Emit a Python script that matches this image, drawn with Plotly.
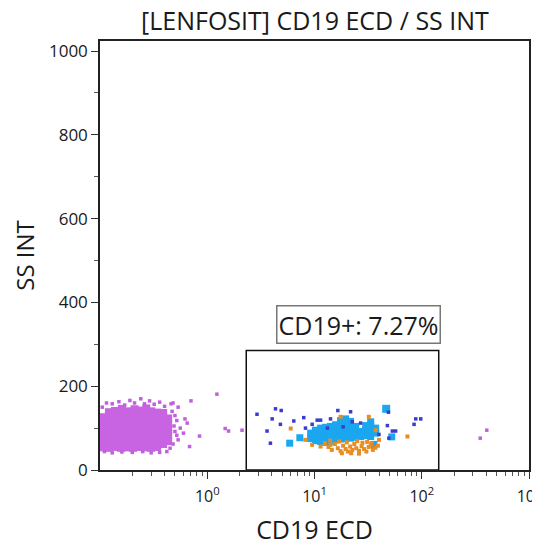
import plotly.graph_objects as go

# ---------------- data ----------------
# dense CD19- population, core
purple_core_x = [0.121, 0.138, 0.157, 0.179, 0.203, 0.231, 0.263, 0.300, 0.341, 0.388,
                 0.107, 0.121, 0.138, 0.157, 0.179, 0.203, 0.231, 0.263, 0.300, 0.341, 0.388, 0.432,
                 0.107, 0.121, 0.138, 0.157, 0.179, 0.203, 0.231, 0.263, 0.300, 0.341, 0.388, 0.432,
                 0.107, 0.121, 0.138, 0.157, 0.179, 0.203, 0.231, 0.263, 0.300, 0.341, 0.388, 0.432,
                 0.107, 0.121, 0.138, 0.157, 0.179, 0.203, 0.231, 0.263, 0.300, 0.341, 0.388, 0.432,
                 0.107, 0.121, 0.138, 0.157, 0.179, 0.203, 0.231, 0.263, 0.300, 0.341, 0.388, 0.432,
                 0.107, 0.121, 0.138, 0.157, 0.179, 0.203, 0.231, 0.263, 0.300, 0.341, 0.388,
                 0.107, 0.121, 0.138, 0.157, 0.179, 0.203, 0.231, 0.263, 0.300, 0.341,
                 0.160, 0.210, 0.270]
purple_core_y = [138, 141, 137, 140, 139, 142, 138, 140, 137, 136,
                 126, 124, 127, 125, 123, 126, 124, 127, 125, 124, 126, 123,
                 112, 113, 111, 114, 112, 110, 113, 112, 111, 113, 112, 110,
                 98, 97, 99, 96, 98, 100, 97, 99, 98, 96, 99, 97,
                 84, 85, 83, 86, 84, 82, 85, 84, 83, 85, 84, 86,
                 70, 68, 71, 69, 70, 68, 71, 69, 70, 68, 70, 69,
                 60, 61, 59, 62, 60, 58, 61, 60, 59, 61, 62,
                 54, 53, 55, 53, 54, 53, 55, 54, 53, 55,
                 146, 145, 147]
# scattered events of the same population
purple_sparse_x = [0.13, 0.15, 0.17, 0.19, 0.21, 0.24, 0.26, 0.29, 0.32, 0.36, 0.40, 0.46,
                   0.48, 0.535, 0.62, 0.65, 0.56, 0.60, 0.52, 0.535, 0.45, 0.47, 0.50, 0.52,
                   0.49, 0.50, 0.48, 0.42, 0.36, 0.30, 0.25, 0.20, 0.16, 0.13, 0.11, 0.105,
                   0.115, 1.23, 0.705, 2.11, 1.47, 1.58, 0.847, 0.684, 404, 351]
purple_sparse_y = [158, 163, 155, 166, 160, 170, 158, 165, 157, 162, 152, 158,
                   160, 150, 122, 112, 100, 88, 83, 72, 52, 140, 130, 118,
                   105, 92, 62, 44, 42, 41, 44, 42, 43, 41, 44, 150,
                   160, 181, 165, 95, 99, 93, 81, 56, 95, 76]

# CD19+ events (bright)
blue_x = [9.2, 9.2, 10.2, 10.2, 10.2, 11.4, 11.4, 11.4, 11.4, 12.7, 12.7, 12.7, 12.7,
          14.1, 14.1, 14.1, 14.1, 15.7, 15.7, 15.7, 15.7, 17.5, 17.5, 17.5, 17.5, 17.5,
          19.5, 19.5, 19.5, 19.5, 19.5, 21.7, 21.7, 21.7, 21.7, 24.2, 24.2, 24.2,
          26.9, 26.9, 30.0, 30.0, 30.0, 33.4, 33.4, 33.4, 33.4, 37.2, 37.2,
          5.87, 7.3, 35.8, 52.5]
blue_y = [75, 88, 70, 82, 95, 68, 80, 93, 100, 66, 78, 90, 102,
          68, 80, 92, 104, 72, 84, 96, 108, 74, 86, 98, 110, 118,
          75, 88, 100, 112, 122, 76, 90, 104, 116, 78, 92, 104,
          80, 92, 82, 95, 106, 80, 92, 108, 115, 88, 100,
          64, 77, 61, 79]
blue_big_x = [46.6]
blue_big_y = [146]

# CD19+ events (dim)
orange_x = [13.5, 14.5, 15.5, 16.5, 17.5, 18.5, 19.5, 20.5, 21.5, 22.5, 23.5, 24.5, 26,
            27.5, 29, 30.5, 32, 33.5, 35, 37, 39, 12.5, 14, 17, 20, 25, 28, 31, 34,
            18, 22, 26, 6.0, 17.5, 32.1, 37.2, 39.9, 73.5, 9.5, 11.4, 14.1, 8.2]
orange_y = [55, 48, 62, 52, 45, 58, 50, 44, 56, 48, 62, 52, 46,
            57, 50, 44, 55, 60, 48, 53, 58, 64, 70, 68, 66, 69, 65, 67, 64,
            40, 40, 39, 99, 127, 127, 95, 72, 80, 60, 56, 60, 72]

# other scattered events
navy_x = [4.33, 4.89, 4.03, 4.81, 6.41, 7.94, 9.51, 10.6, 11.4, 14.1, 16.5, 21.7, 22.5,
          26.9, 48.9, 47.8, 53.2, 57.1, 49.4, 87.9, 97.9, 84.8, 3.61, 3.88, 8.24, 39.9,
          2.91, 13.2, 18.5]
navy_y = [146, 142, 122, 109, 117, 125, 109, 119, 119, 122, 142, 139, 115,
          112, 138, 106, 93, 93, 76, 122, 122, 109, 93, 64, 100, 85,
          133, 100, 103]

# gate (CD19+)
gate_x = [2.31, 144]
gate_y = [0, 285]
gate_label = "CD19+: 7.27%"

x_tickvals = [1, 10, 100, 1000]
x_ticktext = ["10<sup>0</sup>", "10<sup>1</sup>", "10<sup>2</sup>", "10<sup>3</sup>"]
x_minor = [m * 10 ** e for e in (-1, 0, 1, 2) for m in range(2, 10)]
y_tickvals = [0, 200, 400, 600, 800, 1000]

FONT = "Open Sans"
INK = "#1a1a1a"

fig = go.Figure()
fig.add_trace(go.Scatter(x=purple_core_x, y=purple_core_y, mode="markers",
                         marker=dict(symbol="square", size=8, color="#c864e2", line=dict(width=0)),
                         hoverinfo="skip"))
fig.add_trace(go.Scatter(x=purple_sparse_x, y=purple_sparse_y, mode="markers",
                         marker=dict(symbol="square", size=3.5, color="#c060dc", line=dict(width=0)),
                         hoverinfo="skip"))
fig.add_trace(go.Scatter(x=blue_x, y=blue_y, mode="markers",
                         marker=dict(symbol="square", size=7, color="#1aa7f0", line=dict(width=0)),
                         hoverinfo="skip"))
fig.add_trace(go.Scatter(x=blue_big_x, y=blue_big_y, mode="markers",
                         marker=dict(symbol="square", size=8, color="#1aa7f0", line=dict(width=0)),
                         hoverinfo="skip"))
fig.add_trace(go.Scatter(x=orange_x, y=orange_y, mode="markers",
                         marker=dict(symbol="square", size=4, color="#e98d22", line=dict(width=0)),
                         hoverinfo="skip"))
fig.add_trace(go.Scatter(x=navy_x, y=navy_y, mode="markers",
                         marker=dict(symbol="square", size=3.5, color="#3b3bd0", line=dict(width=0)),
                         hoverinfo="skip"))

fig.add_shape(type="rect", xref="x", yref="y",
              x0=gate_x[0], x1=gate_x[1], y0=gate_y[0], y1=gate_y[1],
              line=dict(color="#111111", width=1.5))

fig.add_annotation(x=1.411, y=348, xref="x", yref="y", text=gate_label, showarrow=False,
                   font=dict(family=FONT, size=25, color=INK),
                   bordercolor="#777777", borderwidth=1.5, borderpad=1, bgcolor="white")

axis_common = dict(showgrid=False, zeroline=False, showline=True, linecolor="#222222",
                   linewidth=1.5, mirror=True, ticks="outside", ticklen=7, tickwidth=1.2,
                   tickcolor="#333333", automargin=False)

fig.update_xaxes(type="log", range=[-1, 3], tickvals=x_tickvals, ticktext=x_ticktext,
                 tickfont=dict(family=FONT, size=16, color=INK), ticklabelstandoff=4,
                 minor=dict(tickvals=x_minor, ticks="outside", ticklen=4, tickcolor="#555555"),
                 title=dict(text="CD19 ECD", font=dict(family=FONT, size=25, color=INK),
                            standoff=16),
                 **axis_common)
fig.update_yaxes(range=[0, 1024], tickvals=y_tickvals,
                 tickfont=dict(family=FONT, size=17, color=INK),
                 minor=dict(dtick=100, ticks="outside", ticklen=4, tickcolor="#555555"),
                 title=dict(text="SS INT", font=dict(family=FONT, size=24, color=INK),
                            standoff=18),
                 **axis_common)

# the page body adds an 8px offset, so margins are shifted to compensate
fig.update_layout(
    width=540, height=548,
    margin=dict(l=92, r=19, t=33, b=86, autoexpand=False),
    paper_bgcolor="white", plot_bgcolor="white",
    showlegend=False,
    title=dict(text="[LENFOSIT] CD19 ECD / SS INT", x=0.5685, xanchor="center", y=0.992,
               yanchor="top", font=dict(family=FONT, size=25, color=INK)),
)

fig.write_html("out.html")
